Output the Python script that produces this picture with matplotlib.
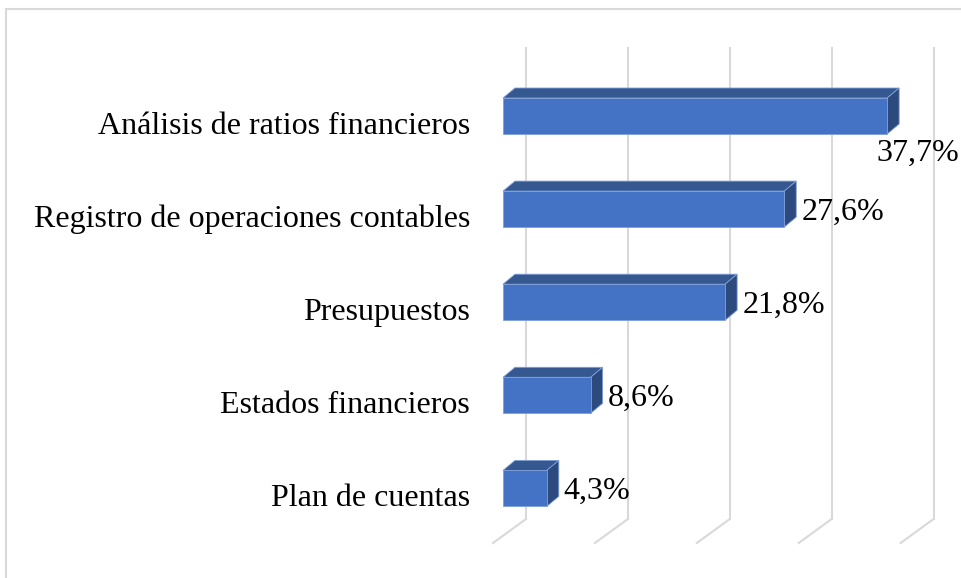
import matplotlib
matplotlib.use("Agg")
import matplotlib.pyplot as plt
from matplotlib.patches import Polygon, Rectangle
from matplotlib.lines import Line2D

categories = ["Análisis de ratios financieros", "Registro de operaciones contables",
              "Presupuestos", "Estados financieros", "Plan de cuentas"]
values = [37.7, 27.6, 21.8, 8.6, 4.3]
value_labels = ["37,7%", "27,6%", "21,8%", "8,6%", "4,3%"]
grid_ticks = [0, 10, 20, 30, 40]

W, H = 961, 578
fig = plt.figure(figsize=(W / 100, H / 100), dpi=100)
ax = fig.add_axes([0, 0, 1, 1])
ax.set_axis_off()

# scales (pixel geometry of the reference)
px_per_unit = 10.19
x0_px = 503
y0_px = 116
row_px = 93.1
ax.set_xlim(-x0_px / px_per_unit, (W - x0_px) / px_per_unit)
ax.set_ylim((H - y0_px) / row_px, -y0_px / row_px)

def ux(px):
    return px / px_per_unit

def uy(px):
    return px / row_px

# 3D depth offsets
bdx, bdy = ux(12), uy(-10)
bar_h = uy(36)
grid_back = ux(23)
grid_front = ux(-10)
grid_top = uy(48 - y0_px)
grid_bot = uy(519 - y0_px)
grid_end = uy(543 - y0_px)

grid_color = "#d9d9d9"
for t in grid_ticks:
    ax.add_line(Line2D([t + grid_back, t + grid_back], [grid_top, grid_bot],
                       color=grid_color, lw=1.5, zorder=1))
    ax.add_line(Line2D([t + grid_back, t + grid_front], [grid_bot, grid_end],
                       color=grid_color, lw=1.5, zorder=1))

front_c = "#4472C4"
top_c = "#355891"
side_c = "#2c4a7e"
edge_c = "#7f9fd8"
font = "Liberation Serif"
fs = 23

for i, (cat, v, lab) in enumerate(zip(categories, values, value_labels)):
    top = i - bar_h / 2
    bot = i + bar_h / 2
    ax.add_patch(Polygon([(0, top), (v, top), (v + bdx, top + bdy), (bdx, top + bdy)],
                         closed=True, facecolor=top_c, edgecolor=edge_c, lw=0.6, zorder=3))
    ax.add_patch(Polygon([(v, top), (v, bot), (v + bdx, bot + bdy), (v + bdx, top + bdy)],
                         closed=True, facecolor=side_c, edgecolor=edge_c, lw=0.6, zorder=3))
    ax.add_patch(Rectangle((0, top), v, bar_h, facecolor=front_c, edgecolor=edge_c,
                           lw=0.6, zorder=4))
    ax.text(ux(470 - x0_px), i + uy(18), cat, ha="right", va="baseline",
            fontsize=fs, family=font, color="black")
    if i == 0:
        ax.text(v + ux(31), i + uy(37), lab, ha="center", va="center",
                fontsize=fs, family=font, color="black")
    else:
        ax.text(v + bdx + ux(5), i + uy(3), lab, ha="left", va="center",
                fontsize=fs, family=font, color="black")

# chart border (cropped)
fig.add_artist(Line2D([5.5 / W, 5.5 / W], [0, 1 - 8.5 / H], color=grid_color, lw=1.5))
fig.add_artist(Line2D([5.5 / W, 1], [1 - 8.5 / H, 1 - 8.5 / H], color=grid_color, lw=1.5))

fig.savefig("out.png", dpi=100, facecolor="white")
